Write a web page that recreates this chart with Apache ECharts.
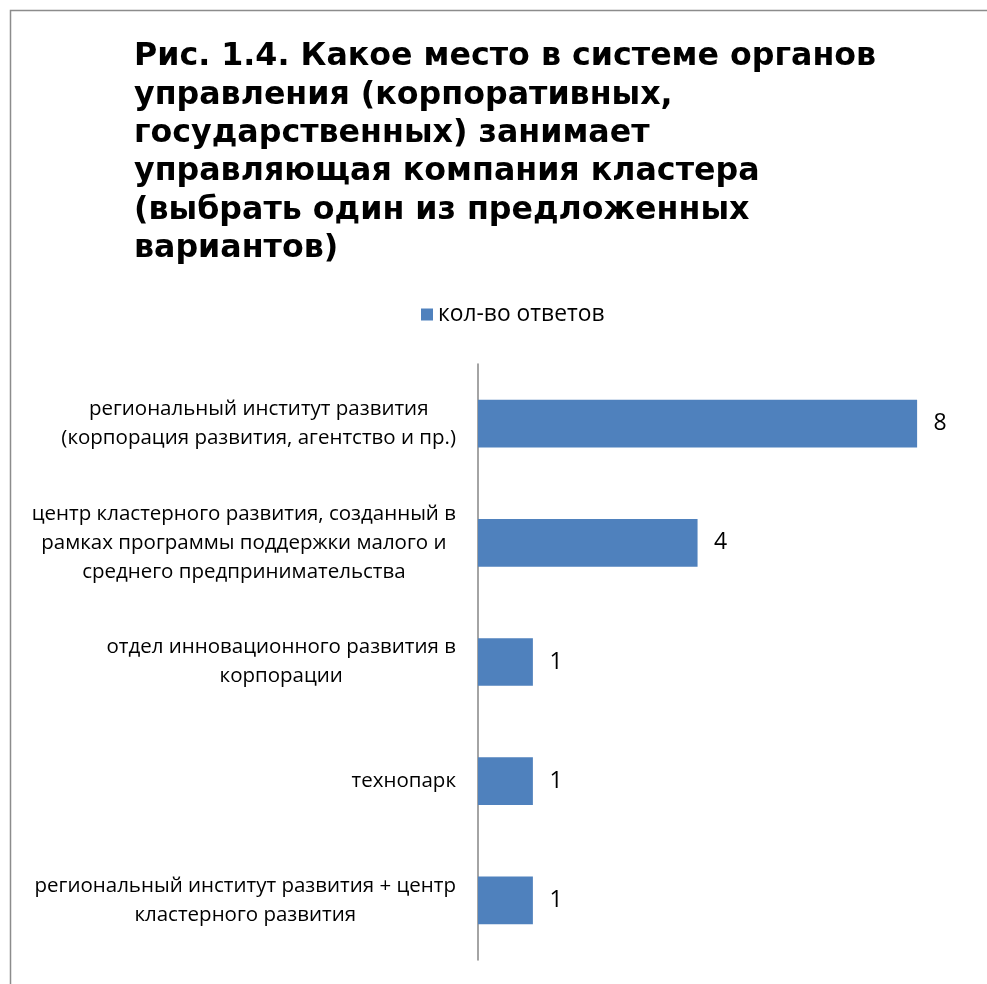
<!DOCTYPE html>
<html>
<head>
<meta charset="utf-8">
<style>
  html, body { margin: 0; padding: 0; background: #fff; }
  #chart { width: 987px; height: 984px; }
</style>
<script src="https://cdn.jsdelivr.net/npm/echarts@6/dist/echarts.min.js"></script>
</head>
<body>
<div id="chart"></div>
<script>
// Survey answers: where the cluster's managing company sits in the governance system
const categories = [
  'региональный институт развития\n(корпорация развития, агентство и пр.)',
  'центр кластерного развития, созданный в\nрамках программы поддержки малого и\nсреднего предпринимательства',
  'отдел инновационного развития в\nкорпорации',
  'технопарк',
  'региональный институт развития + центр\nкластерного развития'
];
const answers = [8, 4, 1, 1, 1];
const seriesName = 'кол-во ответов';
const titleText = 'Рис. 1.4. Какое место в системе органов\nуправления (корпоративных,\nгосударственных) занимает\nуправляющая компания кластера\n(выбрать один из предложенных\nвариантов)';

const chart = echarts.init(document.getElementById('chart'), null, { renderer: 'canvas' });

chart.setOption({
  backgroundColor: '#ffffff',
  animation: false,
  graphic: [{
    type: 'rect',
    shape: { x: 10.5, y: 10.5, width: 1000, height: 1000 },
    style: { fill: 'none', stroke: '#8c8c8c', lineWidth: 1.5 },
    silent: true
  }],
  title: {
    text: titleText,
    left: 129,
    top: 33,
    textStyle: {
      fontFamily: 'DejaVu Sans',
      fontWeight: 'bold',
      fontSize: 31.7,
      lineHeight: 38.3,
      color: '#000'
    }
  },
  legend: {
    data: [seriesName],
    left: 416,
    top: 298,
    icon: 'rect',
    itemWidth: 12,
    itemHeight: 12,
    textStyle: { fontFamily: 'Open Sans', fontSize: 22.8, color: '#000' }
  },
  grid: { left: 478, right: 15, top: 364, bottom: 24, containLabel: false },
  xAxis: {
    type: 'value',
    min: 0,
    max: 9,
    show: false
  },
  yAxis: {
    type: 'category',
    data: categories,
    inverse: true,
    axisLine: { show: true, lineStyle: { color: '#868686', width: 1.5 } },
    axisTick: { show: false },
    splitLine: { show: false },
    axisLabel: {
      margin: 22,
      formatter: v => '{c|' + v + '}',
      rich: {
        c: {
          align: 'center',
          fontFamily: 'Open Sans',
          fontSize: 20.5,
          lineHeight: 29,
          color: '#000'
        }
      }
    }
  },
  series: [{
    name: seriesName,
    type: 'bar',
    data: answers,
    barCategoryGap: '60%',
    itemStyle: { color: '#4f81bd' },
    label: {
      show: true,
      position: 'right',
      distance: 16.5,
      fontFamily: 'Open Sans',
      fontSize: 23,
      color: '#000'
    }
  }]
});
</script>
</body>
</html>
